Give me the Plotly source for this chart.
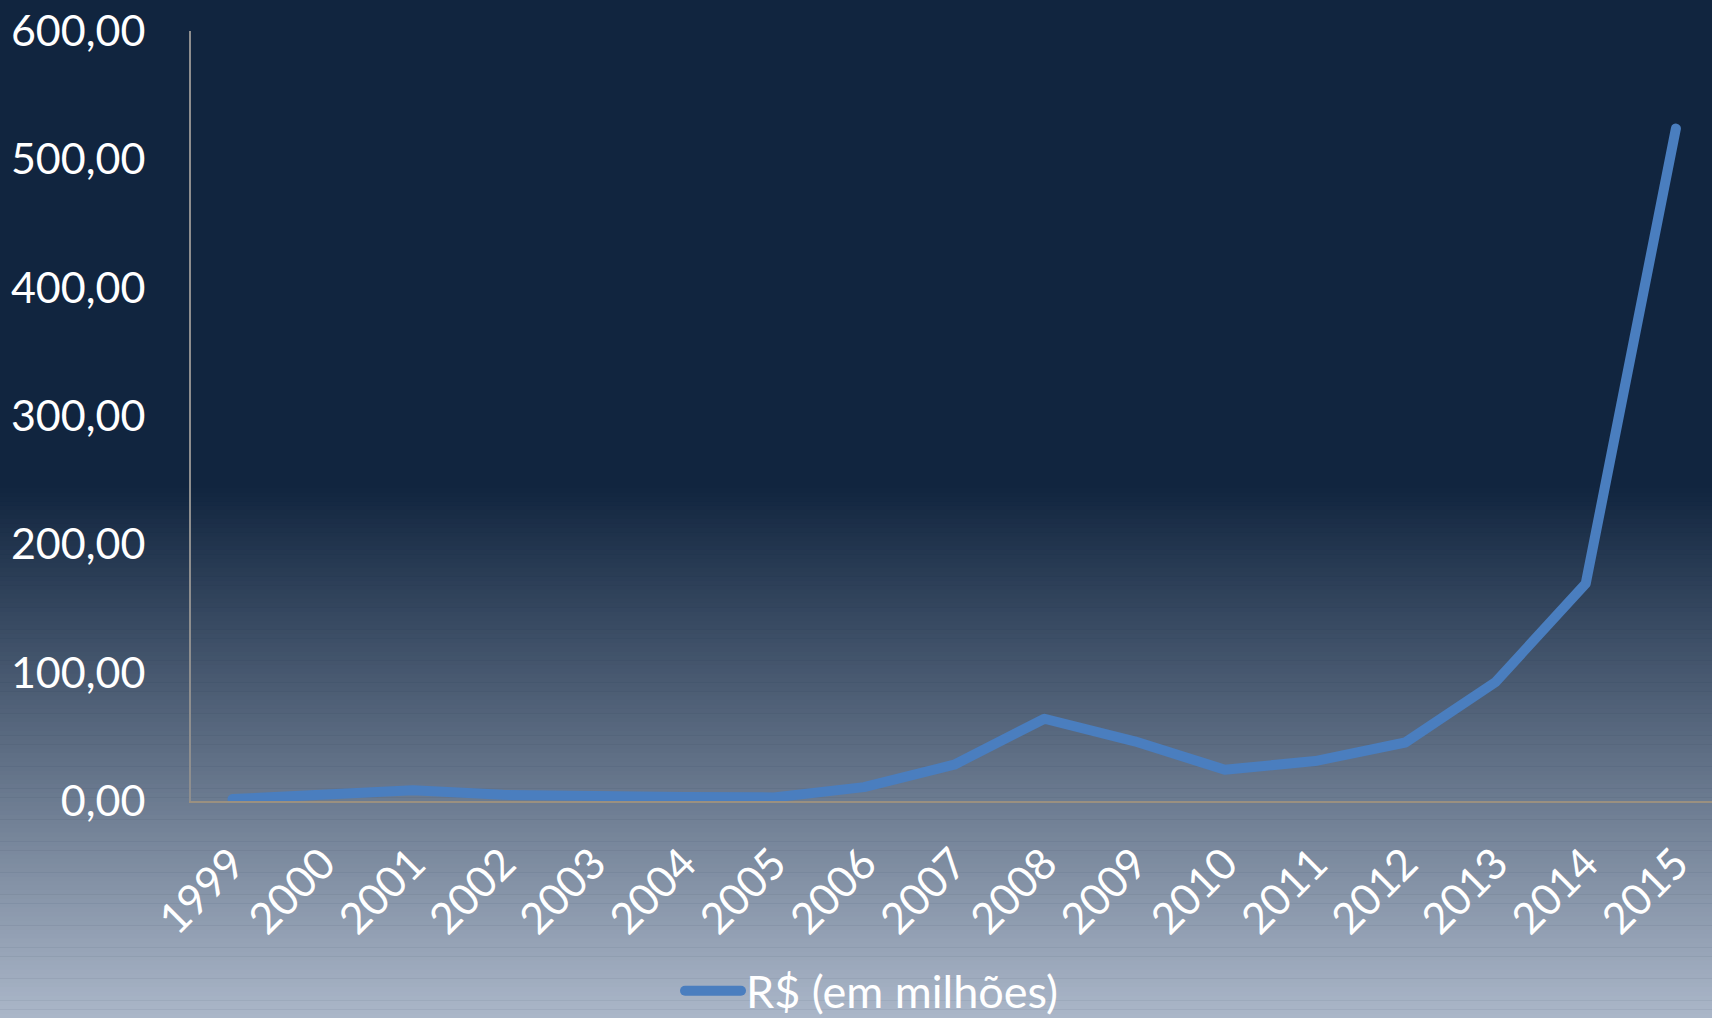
import plotly.graph_objects as go

years = ["1999", "2000", "2001", "2002", "2003", "2004", "2005", "2006", "2007",
         "2008", "2009", "2010", "2011", "2012", "2013", "2014", "2015"]
values = [1.5, 5.5, 8.3, 4.8, 3.2, 3.2, 2.8, 10.8, 28.3,
          64.1, 46.5, 24.4, 31.1, 45.6, 92.7, 169.3, 524.0]
series_name = "R$ (em milhões)"
y_ticks = [0, 100, 200, 300, 400, 500, 600]

W, H = 1712, 1018
L, R, T, B = 191, 0, 31, 217
plot_w = W - L - R
plot_h = H - T - B

def px_to_paper_y(py):
    return (H - B - py) / plot_h

def px_to_paper_x(px):
    return (px - L) / plot_w

top_c = (17, 37, 63)
bot_c = (171, 183, 201)
grad_start = 488

shapes = []
shapes.append(dict(type="rect", xref="paper", yref="paper",
                   x0=px_to_paper_x(0), x1=px_to_paper_x(W),
                   y0=px_to_paper_y(grad_start), y1=px_to_paper_y(0),
                   fillcolor="rgb(%d,%d,%d)" % top_c, line=dict(width=0), layer="below"))
n = 120
span = H - grad_start
for i in range(n):
    y0 = grad_start + span * i / n
    y1 = grad_start + span * (i + 1) / n
    f = (i + 0.5) / n
    c = tuple(round(top_c[k] + (bot_c[k] - top_c[k]) * f) for k in range(3))
    shapes.append(dict(type="rect", xref="paper", yref="paper",
                       x0=px_to_paper_x(0), x1=px_to_paper_x(W),
                       y0=px_to_paper_y(y1 + 0.5), y1=px_to_paper_y(y0),
                       fillcolor="rgb(%d,%d,%d)" % c, line=dict(width=0), layer="below"))

fig = go.Figure()
fig.add_trace(go.Scatter(x=years, y=values, mode="lines", name=series_name,
                         line=dict(color="#4A7EBF", width=10)))

font_family = "Lato"
fig.update_layout(
    width=W, height=H,
    margin=dict(l=L, r=R, t=T, b=B, pad=0, autoexpand=False),
    paper_bgcolor="rgb(17,37,63)",
    plot_bgcolor="rgba(0,0,0,0)",
    separators=",.",
    shapes=shapes,
    font=dict(family=font_family, color="white", size=43),
    showlegend=True,
    legend=dict(orientation="h", x=px_to_paper_x(680), xanchor="left",
                y=px_to_paper_y(991), yanchor="middle",
                font=dict(family=font_family, size=45, color="white"),
                bgcolor="rgba(0,0,0,0)", itemwidth=56),
    xaxis=dict(type="category", range=[-0.46, 16.40], showgrid=False,
               showline=True, linecolor="#9A9080", linewidth=2,
               ticks="", tickangle=-45, ticklabelstandoff=18,
               tickfont=dict(family=font_family, size=43, color="white"),
               zeroline=False, fixedrange=True, automargin=False),
    yaxis=dict(range=[0, 600], tickvals=y_ticks, tickformat=".2f",
               showgrid=False, showline=True, linecolor="#8E8E8E", linewidth=2,
               ticks="", ticklabelstandoff=35,
               tickfont=dict(family=font_family, size=43, color="white"),
               zeroline=False, fixedrange=True, automargin=False),
)

post = (
    "document.body.style.margin='0';document.body.style.overflow='hidden';"
    "document.querySelectorAll('.js-line, .legendlines path').forEach(function(p){"
    "p.style.strokeLinejoin='round';p.style.strokeLinecap='round';});"
)
fig.write_html("out.html", config={"displayModeBar": False}, post_script=post)
